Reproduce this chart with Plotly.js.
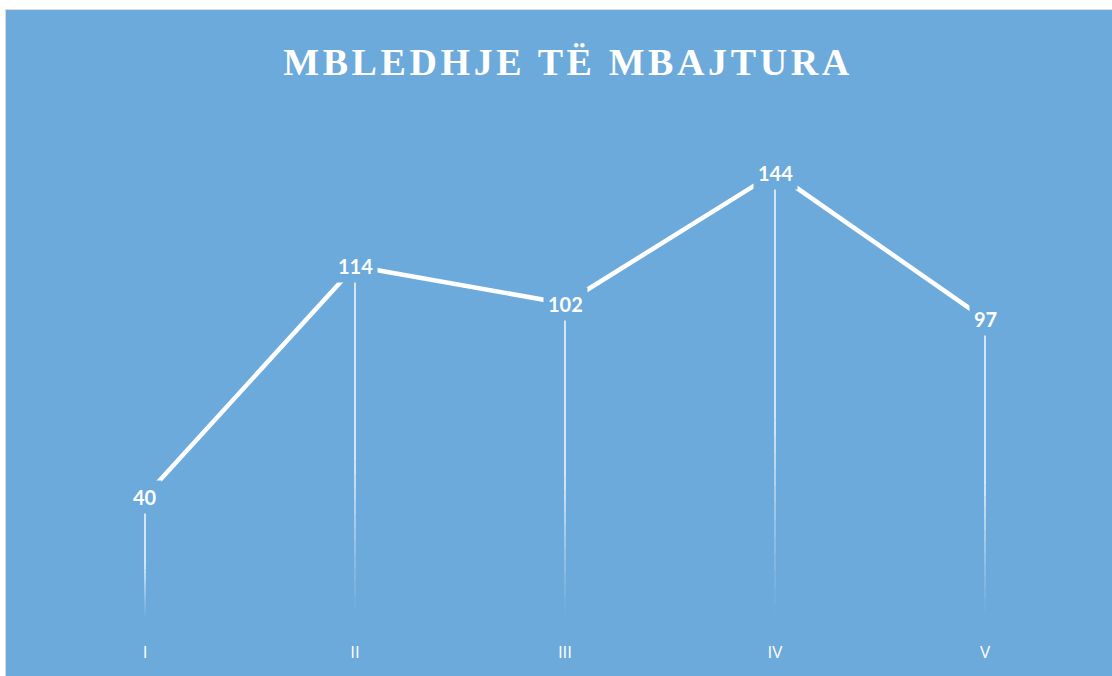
<!DOCTYPE html>
<html>
<head>
<meta charset="utf-8">
<script src="https://cdn.plot.ly/plotly-3.0.1.min.js"></script>
<style>
  html, body { margin: 0; padding: 0; background: #ffffff; width: 1112px; height: 676px; overflow: hidden; }
  #frame { position: absolute; left: 5px; top: 9px; width: 1107px; height: 667px; background: #dcdcdc; }
  #chart { position: absolute; left: 6px; top: 10px; width: 1106px; height: 666px; }
  .gtitle { letter-spacing: 3.6px; }
</style>
</head>
<body>
<div id="frame"></div>
<div id="chart"></div>
<script>
const categories = ["I", "II", "III", "IV", "V"];
const values = [40, 114, 102, 144, 97];
const titleText = "MBLEDHJE TË MBAJTURA";

const BG = "#6BAADB";
const shapes = [];
// drop lines with a fade toward the baseline
const steps = 12;
categories.forEach((c, i) => {
  const v = values[i];
  const solidFrom = v * 0.45;
  shapes.push({
    type: "line", xref: "x", yref: "y", x0: c, x1: c, y0: solidFrom, y1: v,
    line: { color: "rgba(255,255,255,0.95)", width: 1.5 }, layer: "below"
  });
  for (let s = 0; s < steps; s++) {
    const a = solidFrom * s / steps, b = solidFrom * (s + 1) / steps;
    const op = Math.pow((s + 0.5) / steps, 1.2) * 0.95;
    shapes.push({
      type: "line", xref: "x", yref: "y", x0: c, x1: c, y0: a, y1: b,
      line: { color: "rgba(255,255,255," + op.toFixed(3) + ")", width: 1.5 }, layer: "below"
    });
  }
});

const annotations = categories.map((c, i) => ({
  x: c, y: values[i], xref: "x", yref: "y",
  text: "<b>" + values[i] + "</b>", showarrow: false,
  font: { family: "Lato, 'Open Sans', sans-serif", size: 20, color: "#ffffff" },
  bgcolor: BG, borderpad: 4, xanchor: "center", yanchor: "middle"
}));

const trace = {
  x: categories, y: values, type: "scatter", mode: "lines",
  line: { color: "#ffffff", width: 4.5 },
  hoverinfo: "skip", cliponaxis: false
};

const layout = {
  width: 1106, height: 666,
  paper_bgcolor: BG, plot_bgcolor: BG,
  margin: { l: 34, r: 22, t: 113, b: 55 },
  showlegend: false,
  title: {
    text: titleText, x: 0.5 + 9 / 1106, xanchor: "center", xref: "container",
    y: 1 - 52 / 666, yref: "container", yanchor: "middle",
    font: { family: "'Liberation Serif', 'DejaVu Serif', serif", size: 38, color: "#ffffff", weight: "bold" }
  },
  xaxis: {
    type: "category", range: [-0.5, 4.5], showgrid: false, zeroline: false, showline: false,
    ticks: "", ticklabelstandoff: 19,
    tickfont: { family: "'Open Sans', Lato, sans-serif", size: 17, color: "#ffffff" }, fixedrange: true
  },
  yaxis: {
    range: [0, 160], showgrid: false, zeroline: false, showline: false, showticklabels: false, ticks: "", fixedrange: true
  },
  shapes: shapes,
  annotations: annotations
};

Plotly.newPlot("chart", [trace], layout, { displayModeBar: false, staticPlot: true });
</script>
</body>
</html>
